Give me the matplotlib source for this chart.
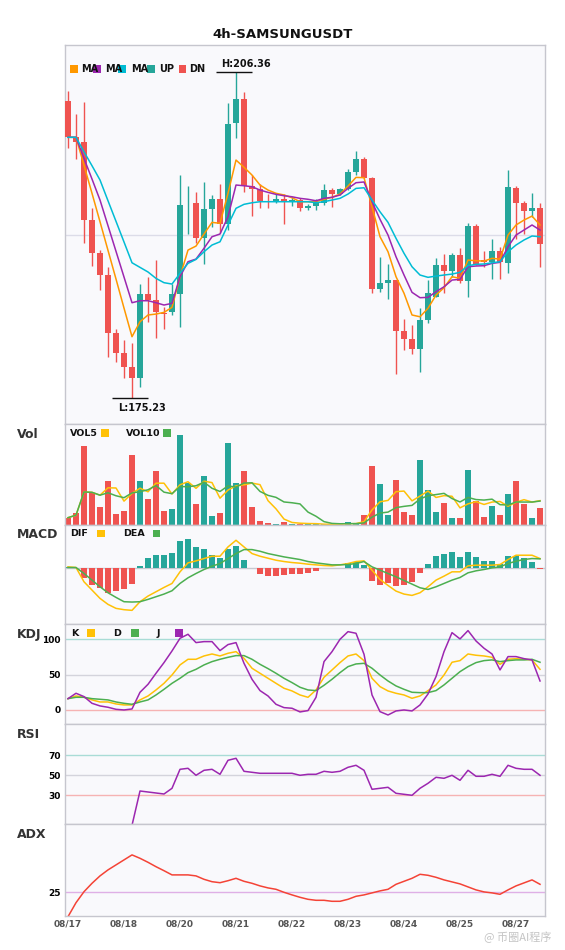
import numpy as np
import matplotlib
matplotlib.use("Agg")
import matplotlib.pyplot as plt
from matplotlib.patches import Rectangle

title = "4h-SAMSUNGUSDT"
date_ticks = [0, 7, 14, 21, 28, 35, 42, 49, 56]
date_labels = ["08/17", "08/18", "08/20", "08/21", "08/22", "08/23", "08/24", "08/25", "08/27"]

# 4h candles
opens = [203.57, 200.16, 199.69, 192.22, 189.11, 186.98, 181.42, 179.57, 178.24, 177.19,
         185.17, 184.60, 183.36, 183.48, 185.17, 193.72, 193.81, 190.48, 193.27, 194.22,
         191.81, 201.50, 203.76, 195.46, 195.15, 194.06, 193.91, 194.22, 193.97, 194.13,
         193.40, 193.59, 193.87, 195.08, 194.70, 195.18, 196.80, 198.04, 196.26, 185.65,
         186.25, 186.50, 181.64, 180.85, 179.95, 182.69, 184.85, 187.93, 187.39, 188.89,
         186.44, 191.65, 188.41, 188.25, 189.27, 188.15, 195.30, 193.87, 193.11, 193.40]
highs = [204.52, 202.33, 203.47, 193.37, 189.36, 187.74, 181.83, 180.78, 180.49, 186.12,
         186.79, 188.41, 183.96, 186.12, 196.51, 195.49, 194.89, 195.85, 194.61, 195.65,
         203.40, 206.36, 204.45, 196.51, 195.65, 194.70, 194.70, 194.70, 194.44, 194.29,
         193.75, 194.20, 195.65, 195.30, 195.24, 197.08, 198.83, 198.23, 196.30, 188.72,
         188.03, 186.55, 182.79, 182.21, 183.81, 186.50, 188.60, 188.98, 189.11, 189.52,
         191.91, 191.84, 189.27, 190.41, 189.68, 196.99, 195.46, 194.06, 194.83, 193.87]
lows = [199.09, 198.04, 190.06, 187.87, 185.55, 179.19, 178.71, 177.13, 175.23, 176.33,
        182.53, 180.95, 181.80, 183.17, 182.05, 190.89, 190.06, 188.03, 191.58, 190.95,
        191.27, 200.07, 194.92, 192.63, 193.40, 193.40, 193.81, 191.84, 193.59, 193.11,
        193.18, 193.18, 193.65, 193.49, 194.63, 195.08, 196.48, 196.20, 185.29, 185.39,
        184.69, 177.54, 179.83, 179.45, 177.76, 182.38, 184.85, 185.29, 186.82, 186.25,
        184.85, 187.93, 187.71, 186.60, 186.60, 187.14, 190.41, 190.89, 192.54, 187.77]
closes = [200.16, 199.69, 192.22, 189.11, 186.98, 181.48, 179.57, 178.24, 177.19, 185.17,
          184.60, 183.48, 183.31, 185.17, 193.65, 193.78, 190.54, 193.27, 194.22, 191.81,
          201.37, 203.76, 195.46, 195.18, 194.06, 193.91, 194.22, 194.03, 194.13, 193.40,
          193.59, 193.87, 195.08, 194.70, 195.18, 196.80, 198.04, 196.26, 185.65, 186.25,
          186.50, 181.64, 180.85, 179.95, 182.69, 185.29, 187.93, 187.39, 188.89, 186.44,
          191.65, 187.93, 188.25, 189.27, 188.25, 195.40, 193.87, 193.11, 193.40, 189.93]

ma5 = [200.11, 200.11, 197.44, 194.77, 192.06, 189.33, 186.60, 183.83, 181.10, 182.53,
       183.17, 183.26, 183.42, 183.90, 186.82, 189.36, 189.74, 190.89, 192.00, 191.91,
       194.77, 197.94, 197.25, 196.51, 195.56, 195.08, 194.77, 194.61, 194.35, 193.97,
       193.97, 193.97, 194.20, 194.39, 194.70, 195.46, 196.29, 196.26, 193.49, 190.63,
       189.20, 186.82, 185.24, 183.17, 183.00, 183.81, 185.07, 185.77, 186.82, 186.66,
       188.41, 188.34, 188.31, 188.57, 188.50, 190.79, 191.75, 192.22, 192.60, 191.75]
ma10 = [200.11, 200.11, 198.10, 196.13, 194.13, 191.68, 189.24, 186.79, 184.34, 184.53,
        184.53, 184.34, 184.12, 184.28, 186.82, 188.25, 188.50, 189.53, 190.63, 190.89,
        192.54, 195.56, 195.49, 195.40, 195.08, 194.86, 194.67, 194.54, 194.44, 194.29,
        194.20, 194.06, 194.29, 194.39, 194.61, 195.24, 195.78, 195.85, 193.97, 192.29,
        190.79, 188.72, 186.98, 185.33, 184.82, 184.85, 185.39, 185.86, 186.50, 186.57,
        187.77, 187.84, 187.87, 188.09, 188.19, 189.68, 190.79, 191.27, 191.75, 191.27]
ma20 = [200.11, 200.11, 198.73, 197.40, 196.04, 194.06, 192.10, 190.13, 188.15, 187.71,
        187.27, 186.66, 186.25, 186.12, 187.14, 188.09, 188.47, 189.20, 189.84, 190.15,
        191.75, 193.34, 193.72, 193.87, 193.97, 193.97, 193.97, 193.97, 193.97, 193.97,
        193.97, 193.87, 193.97, 194.13, 194.29, 194.70, 195.24, 195.30, 194.13, 193.01,
        192.00, 190.48, 189.05, 187.77, 186.98, 186.76, 186.88, 186.98, 187.07, 187.24,
        187.87, 188.00, 188.03, 188.15, 188.25, 189.20, 189.84, 190.32, 190.70, 190.63]

volume = [22, 37, 238, 95, 55, 133, 34, 41, 211, 133, 79, 163, 41, 49, 271, 125, 64, 148, 28, 37,
          247, 127, 163, 55, 13, 7, 4, 10, 4, 2, 2, 2, 2, 2, 2, 10, 5, 31, 178, 124,
          31, 136, 40, 31, 196, 106, 40, 67, 22, 22, 166, 73, 25, 58, 31, 94, 133, 64, 22, 52]
vol5 = [22, 29.5, 99, 98, 89.4, 111.6, 111, 71.6, 94.8, 110.4, 99.6, 125.4, 125.4, 93, 120.6,
        129.8, 110, 131.4, 127.2, 80.4, 104.8, 117.4, 120.4, 125.8, 121, 73, 48.4, 17.8, 7.6, 5.4,
        4.4, 4, 2.4, 2, 2, 3.6, 4.2, 10, 45.2, 69.6, 73.8, 100, 101.8, 72.4, 86.8,
        101.8, 82.6, 88, 86.2, 51.4, 63.4, 70, 61.6, 68.8, 70.6, 56.2, 68.2, 76, 68.8, 73]
vol10 = [22, 29.5, 99, 98, 89.4, 96.7, 87.7, 81.9, 96.2, 99.9, 105.6, 118.2, 98.5, 93.9, 115.5,
         114.7, 117.7, 128.4, 110.1, 100.5, 117.3, 113.7, 125.9, 126.5, 100.7, 88.9, 82.9, 69.1, 66.7, 63.2,
         38.7, 26.2, 10.1, 4.8, 3.7, 4, 4.1, 6.2, 23.6, 35.8, 38.7, 52.1, 55.9, 58.8, 78.2,
         87.8, 91.3, 94.9, 79.3, 69.1, 82.6, 76.3, 74.8, 77.5, 61, 59.8, 69.1, 68.8, 68.8, 71.8]

macd_hist = [0.005, 0, -0.31, -0.52, -0.62, -0.76, -0.72, -0.64, -0.49, 0.04,
             0.28, 0.37, 0.37, 0.43, 0.79, 0.85, 0.61, 0.55, 0.37, 0.28,
             0.55, 0.65, 0.22, -0.02, -0.19, -0.25, -0.25, -0.22, -0.19, -0.19,
             -0.16, -0.10, -0.02, -0.02, 0.0, 0.13, 0.16, 0.07, -0.40, -0.52,
             -0.46, -0.55, -0.52, -0.43, -0.16, 0.10, 0.34, 0.40, 0.46, 0.31,
             0.46, 0.31, 0.19, 0.19, 0.10, 0.34, 0.34, 0.28, 0.16, -0.05]
dif = [0.02, 0, -0.43, -0.68, -0.93, -1.11, -1.23, -1.27, -1.29, -1.03,
       -0.86, -0.73, -0.60, -0.48, -0.13, 0.14, 0.20, 0.27, 0.34, 0.34,
       0.62, 0.82, 0.62, 0.42, 0.34, 0.28, 0.22, 0.18, 0.15, 0.13,
       0.10, 0.08, 0.06, 0.05, 0.08, 0.12, 0.18, 0.20, -0.08, -0.36,
       -0.54, -0.71, -0.80, -0.84, -0.76, -0.58, -0.38, -0.26, -0.13, -0.13,
       0.05, 0.07, 0.07, 0.07, 0.09, 0.24, 0.37, 0.37, 0.37, 0.27]
dea = [0, 0, -0.18, -0.38, -0.58, -0.76, -0.90, -1.03, -1.04, -1.03,
       -0.96, -0.88, -0.80, -0.70, -0.48, -0.31, -0.18, -0.06, 0.04, 0.12,
       0.27, 0.42, 0.54, 0.54, 0.49, 0.42, 0.37, 0.32, 0.28, 0.24,
       0.18, 0.14, 0.11, 0.08, 0.08, 0.09, 0.12, 0.18, 0.02, -0.08,
       -0.18, -0.28, -0.39, -0.50, -0.61, -0.66, -0.58, -0.48, -0.38, -0.30,
       -0.16, -0.10, -0.06, -0.01, 0.02, 0.12, 0.19, 0.24, 0.27, 0.26]

k_line = [16.0, 19.8, 17.9, 14.2, 11.3, 11.3, 8.5, 7.1, 7.1, 14.2,
          19.8, 28.3, 37.7, 49.5, 63.7, 71.7, 71.7, 76.4, 79.2, 76.4,
          80.2, 82.5, 73.1, 59.0, 51.9, 44.8, 37.7, 30.7, 26.9, 21.2,
          17.9, 28.3, 46.2, 56.6, 67.0, 76.4, 79.2, 69.8, 44.8, 33.0,
          26.9, 23.6, 21.2, 16.5, 19.8, 27.4, 35.4, 49.5, 67.5, 69.8,
          79.2, 77.4, 76.4, 74.5, 64.6, 71.7, 72.6, 71.7, 70.8, 57.5]
d_line = [16.0, 17.9, 17.9, 16.0, 15.1, 14.2, 11.3, 9.4, 8.0, 11.3,
          14.2, 21.2, 29.2, 37.7, 44.8, 52.8, 57.5, 63.7, 68.4, 71.7,
          74.5, 76.9, 76.9, 71.7, 64.6, 58.5, 51.9, 44.8, 38.7, 32.1,
          28.3, 27.4, 34.9, 43.4, 52.8, 61.3, 65.1, 66.0, 59.0, 49.5,
          41.0, 34.0, 29.2, 25.0, 24.5, 24.5, 27.4, 35.4, 44.8, 54.2,
          61.3, 67.0, 69.8, 70.8, 68.4, 69.8, 70.8, 70.8, 71.7, 67.5]
j_line = [16.0, 23.6, 18.9, 9.4, 5.7, 3.8, 0.9, 0.0, 1.4, 25.0,
          36.3, 51.9, 67.0, 83.5, 101.4, 107.1, 95.3, 96.7, 96.7, 84.0,
          92.5, 95.3, 66.0, 43.4, 27.4, 19.8, 8.0, 3.3, 2.4, -2.8,
          -0.9, 17.9, 68.4, 82.5, 100.0, 110.8, 108.5, 78.8, 21.2, -2.4,
          -7.1, -1.4, 0.0, -1.4, 7.1, 22.6, 47.2, 82.5, 109.4, 100.5,
          112.3, 97.6, 87.3, 79.2, 56.6, 75.5, 75.5, 72.6, 70.8, 41.0]

rsi = [None, None, None, None, None, None, None, None, 0, 34.3,
       33.3, 32.3, 31.3, 37, 56, 57, 50, 55, 56, 51,
       65, 67, 54, 53, 52, 52, 52, 52, 52, 50,
       51, 51, 54, 53, 54, 58, 60, 55, 36, 37,
       38, 32, 31, 30, 37, 42, 48, 47, 50, 45,
       55, 49, 49, 51, 49, 60, 57, 56, 56, 50]

adx = [12.8, 19.8, 25.3, 29.5, 33.2, 36.2, 38.7, 41.2, 43.7, 42.0,
       40.0, 37.8, 35.8, 33.7, 33.7, 33.7, 33.2, 31.5, 30.3, 29.8,
       30.8, 32.0, 30.5, 29.5, 28.2, 27.2, 26.5, 25.0, 23.7, 22.5,
       21.5, 21.0, 21.0, 20.5, 20.5, 21.5, 23.0, 23.7, 24.7, 25.7,
       26.5, 29.0, 30.5, 32.0, 34.0, 33.5, 32.5, 31.2, 30.2, 29.2,
       27.7, 26.2, 25.2, 24.7, 24.0, 26.2, 28.2, 29.7, 31.2, 29.0]

UP = "#26a69a"
DN = "#ef5350"
YEL = "#ffc107"
GRN = "#4caf50"
PUR = "#9c27b0"
BG = "#f9f9fc"
EDGE = "#c6c6ce"

W, H = 565, 950
plt.rcParams["font.family"] = ["DejaVu Sans"]


def fx(px):
    return px / W


def fy(py):
    return 1 - py / H


def panel(top, bottom):
    ax = fig.add_axes([fx(65), fy(bottom), (544.5 - 65) / W, (bottom - top) / H])
    ax.set_facecolor(BG)
    for s in ax.spines.values():
        s.set_color(EDGE)
        s.set_linewidth(1)
    ax.set_xlim(-0.375, 59.56)
    ax.set_xticks([])
    ax.set_yticks([])
    ax.tick_params(length=0)
    return ax


def square(x, y, color, size=7.5):
    fig.add_artist(Rectangle((fx(x), fy(y + size)), size / W, size / H,
                             transform=fig.transFigure, color=color, lw=0))


def label(x, y, s, size=6.8):
    fig.text(fx(x), fy(y), s, ha="left", va="center", fontsize=size,
             weight="bold", color="#111111")


fig = plt.figure(figsize=(W / 100, H / 100), dpi=100)

x = np.arange(len(closes))
o = np.array(opens)
c = np.array(closes)
hi = np.array(highs)
lo = np.array(lows)
cols = np.where(c >= o, UP, DN)

# main candles
ax = panel(45.3, 424.3)
ax.set_ylim(172.75, 208.88)
ax.axhline((172.75 + 208.88) / 2, color="#dcdce8", lw=1, zorder=0)
ax.vlines(x, lo, hi, colors=cols, lw=1, zorder=2)
ax.bar(x, np.maximum(np.abs(c - o), 0.06), bottom=np.minimum(o, c), width=0.74,
       color=cols, lw=0, zorder=3)
ax.plot(x, ma5, color="#ff9800", lw=1.1, zorder=4)
ax.plot(x, ma10, color=PUR, lw=1.1, zorder=4)
ax.plot(x, ma20, color="#00bcd4", lw=1.1, zorder=4)

ih = int(np.argmax(hi))
il = int(np.argmin(lo))
ax.hlines(hi[ih], ih - 2.45, ih + 1.95, color="#111111", lw=1, zorder=5)
ax.text(ih + 1.25, hi[ih] + 0.3, f"H:{hi[ih]:.2f}", ha="center", va="bottom",
        fontsize=7, weight="bold", color="#111111")
ax.hlines(lo[il], il - 2.45, il + 1.95, color="#111111", lw=1, zorder=5)
ax.text(il + 1.25, lo[il] - 0.45, f"L:{lo[il]:.2f}", ha="center", va="top",
        fontsize=7, weight="bold", color="#111111")

for sx, colr in [(70, "#ff9800"), (93.3, PUR), (118, "#00bcd4"), (147.3, UP), (178.7, DN)]:
    square(sx, 65.3, colr)
for tx, s in [(81, "MA"), (105, "MA"), (131.3, "MA"), (159.3, "UP"), (189.3, "DN")]:
    label(tx, 69, s, 7)

fig.text(0.5, fy(34), title, ha="center", va="center", fontsize=9.5, weight="bold",
         color="#111111")

# volume
av = panel(424.3, 525)
av.set_ylim(0, 302)
av.bar(x, volume, width=0.74, color=cols, lw=0)
av.plot(x, vol5, color=YEL, lw=1.1)
av.plot(x, vol10, color=GRN, lw=1.1)
label(70, 434, "VOL5")
square(101, 429.3, YEL)
label(125.7, 434, "VOL10")
square(163, 429.3, GRN)

# macd
am = panel(525, 624.3)
am.set_ylim(-1.71, 1.28)
am.axhline(0, color="#c8c8d0", lw=1, zorder=0)
hist = np.array(macd_hist)
am.bar(x, hist, width=0.74, color=np.where(hist >= 0, UP, DN), lw=0)
am.plot(x, dif, color=YEL, lw=1.1)
am.plot(x, dea, color=GRN, lw=1.1)
label(70, 534, "DIF")
square(97, 529.5, YEL)
label(123.6, 534, "DEA")
square(152.5, 529.5, GRN)

# kdj
ak = panel(624.3, 724.3)
ak.set_ylim(-20.3, 121.2)
ak.axhline(100, color="#a9dcd6", lw=1, zorder=0)
ak.axhline(50, color="#d4d4dc", lw=1, zorder=0)
ak.axhline(0, color="#f6b3b3", lw=1, zorder=0)
ak.plot(x, k_line, color=YEL, lw=1.1)
ak.plot(x, d_line, color=GRN, lw=1.1)
ak.plot(x, j_line, color=PUR, lw=1.1)
ak.set_yticks([0, 50, 100])
ak.set_yticklabels(["0", "50", "100"], fontsize=6.5, fontweight="bold")
ak.tick_params(axis="y", length=0, pad=3)
label(71, 634, "K")
square(87, 629.3, YEL)
label(113.6, 634, "D")
square(131, 629.3, GRN)
label(156.7, 634, "J")
square(175, 629.3, PUR)

# rsi
ar = panel(724.3, 824.3)
ar.set_ylim(1, 101)
ar.axhline(70, color="#a9dcd6", lw=1, zorder=0)
ar.axhline(50, color="#d4d4dc", lw=1, zorder=0)
ar.axhline(30, color="#f6b3b3", lw=1, zorder=0)
ar.plot(x, np.array(rsi, dtype=float), color=PUR, lw=1.1)
ar.set_yticks([30, 50, 70])
ar.set_yticklabels(["30", "50", "70"], fontsize=6.5, fontweight="bold")
ar.tick_params(axis="y", length=0, pad=3)

# adx
aa = panel(824.3, 915.7)
aa.set_ylim(13.3, 59)
aa.axhline(25, color="#dfb0e6", lw=1, zorder=0)
aa.plot(x, adx, color="#f44336", lw=1.1)
aa.set_yticks([25])
aa.set_yticklabels(["25"], fontsize=6.5, fontweight="bold")
aa.tick_params(axis="y", length=0, pad=3)
aa.set_xticks(date_ticks)
aa.set_xticklabels(date_labels, fontsize=6.5, fontweight="bold", color="#555555")
aa.tick_params(axis="x", length=0, pad=3)

for yy, s in [(434.7, "Vol"), (534.7, "MACD"), (634.7, "KDJ"), (734.7, "RSI"), (835, "ADX")]:
    fig.text(fx(17), fy(yy), s, ha="left", va="center", fontsize=9, weight="bold",
             color="#333333")

fig.text(fx(484), fy(937), "@ 币圈AI程序", ha="left", va="center", fontsize=8,
         color="#c4c4c4", family=["Noto Sans CJK SC", "DejaVu Sans"])

fig.savefig("out.png", dpi=100)
